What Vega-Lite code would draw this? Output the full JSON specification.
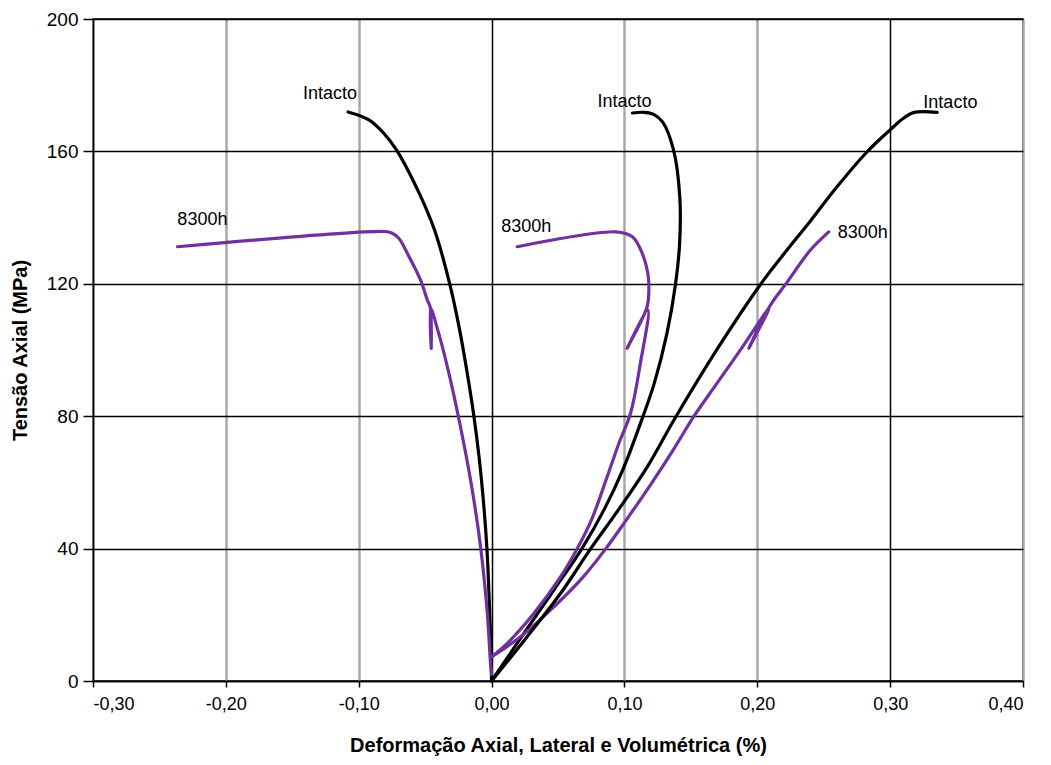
{
 "$schema": "https://vega.github.io/schema/vega-lite/v6.json",
 "width": 930, "height": 662,
 "autosize": {"type": "none"},
 "padding": {"left": 93, "top": 19, "right": 28, "bottom": 84},
 "background": "white",
 "config": {"view": {"stroke": "black", "strokeWidth": 1.5}, "font": "Liberation Sans"},
 "datasets": {
  "curves": [
   {"s":"A","g":"Intacto","i":0,"x":0,"y":0},
   {"s":"A","g":"Intacto","i":1,"x":-0.0006,"y":10},
   {"s":"A","g":"Intacto","i":2,"x":-0.0018,"y":25},
   {"s":"A","g":"Intacto","i":3,"x":-0.0035,"y":40},
   {"s":"A","g":"Intacto","i":4,"x":-0.0065,"y":56},
   {"s":"A","g":"Intacto","i":5,"x":-0.0095,"y":68},
   {"s":"A","g":"Intacto","i":6,"x":-0.0133,"y":80},
   {"s":"A","g":"Intacto","i":7,"x":-0.0175,"y":91},
   {"s":"A","g":"Intacto","i":8,"x":-0.024,"y":106},
   {"s":"A","g":"Intacto","i":9,"x":-0.0315,"y":120},
   {"s":"A","g":"Intacto","i":10,"x":-0.043,"y":136.3},
   {"s":"A","g":"Intacto","i":11,"x":-0.0545,"y":147.4},
   {"s":"A","g":"Intacto","i":12,"x":-0.0715,"y":160.4},
   {"s":"A","g":"Intacto","i":13,"x":-0.081,"y":165.4},
   {"s":"A","g":"Intacto","i":14,"x":-0.0923,"y":169.5},
   {"s":"A","g":"Intacto","i":15,"x":-0.108,"y":171.9},

   {"s":"B","g":"8300h","i":0,"x":0,"y":2},
   {"s":"B","g":"8300h","i":1,"x":-0.0008,"y":5.4},
   {"s":"B","g":"8300h","i":2,"x":-0.0032,"y":20.5},
   {"s":"B","g":"8300h","i":3,"x":-0.0083,"y":40.6},
   {"s":"B","g":"8300h","i":4,"x":-0.0158,"y":60.7},
   {"s":"B","g":"8300h","i":5,"x":-0.0255,"y":80.9},
   {"s":"B","g":"8300h","i":6,"x":-0.0333,"y":95},
   {"s":"B","g":"8300h","i":7,"x":-0.0405,"y":106},
   {"s":"B","g":"8300h","i":8,"x":-0.0459,"y":112.6},
   {"s":"B","g":"8300h","i":9,"x":-0.0454,"y":100.5},
   {"s":"B","g":"8300h","i":10,"x":-0.0462,"y":113},
   {"s":"B","g":"8300h","i":11,"x":-0.0484,"y":115.1},
   {"s":"B","g":"8300h","i":12,"x":-0.0534,"y":121.1},
   {"s":"B","g":"8300h","i":13,"x":-0.0634,"y":129.2},
   {"s":"B","g":"8300h","i":14,"x":-0.0697,"y":133.7},
   {"s":"B","g":"8300h","i":15,"x":-0.0755,"y":135.4},
   {"s":"B","g":"8300h","i":16,"x":-0.08,"y":135.8},
   {"s":"B","g":"8300h","i":17,"x":-0.2365,"y":131.2},

   {"s":"C","g":"Intacto","i":0,"x":0,"y":0},
   {"s":"C","g":"Intacto","i":1,"x":0.0243,"y":14.4},
   {"s":"C","g":"Intacto","i":2,"x":0.0469,"y":27.5},
   {"s":"C","g":"Intacto","i":3,"x":0.068,"y":40},
   {"s":"C","g":"Intacto","i":4,"x":0.085,"y":52},
   {"s":"C","g":"Intacto","i":5,"x":0.099,"y":64},
   {"s":"C","g":"Intacto","i":6,"x":0.114,"y":80},
   {"s":"C","g":"Intacto","i":7,"x":0.1225,"y":90},
   {"s":"C","g":"Intacto","i":8,"x":0.132,"y":105},
   {"s":"C","g":"Intacto","i":9,"x":0.1385,"y":120},
   {"s":"C","g":"Intacto","i":10,"x":0.1415,"y":132},
   {"s":"C","g":"Intacto","i":11,"x":0.1417,"y":146},
   {"s":"C","g":"Intacto","i":12,"x":0.137,"y":160.4},
   {"s":"C","g":"Intacto","i":13,"x":0.1287,"y":168.9},
   {"s":"C","g":"Intacto","i":14,"x":0.122,"y":171.2},
   {"s":"C","g":"Intacto","i":15,"x":0.115,"y":171.8},
   {"s":"C","g":"Intacto","i":16,"x":0.106,"y":171.6},

   {"s":"D","g":"8300h","i":0,"x":0,"y":7.3},
   {"s":"D","g":"8300h","i":1,"x":0.0118,"y":11.4},
   {"s":"D","g":"8300h","i":2,"x":0.0318,"y":20.4},
   {"s":"D","g":"8300h","i":3,"x":0.052,"y":31.5},
   {"s":"D","g":"8300h","i":4,"x":0.0645,"y":40},
   {"s":"D","g":"8300h","i":5,"x":0.0755,"y":49},
   {"s":"D","g":"8300h","i":6,"x":0.087,"y":61.7},
   {"s":"D","g":"8300h","i":7,"x":0.096,"y":72},
   {"s":"D","g":"8300h","i":8,"x":0.1046,"y":80.9},
   {"s":"D","g":"8300h","i":9,"x":0.112,"y":96},
   {"s":"D","g":"8300h","i":10,"x":0.1176,"y":112},
   {"s":"D","g":"8300h","i":11,"x":0.102,"y":100.5},
   {"s":"D","g":"8300h","i":12,"x":0.117,"y":113},
   {"s":"D","g":"8300h","i":13,"x":0.1184,"y":119},
   {"s":"D","g":"8300h","i":14,"x":0.1176,"y":123.2},
   {"s":"D","g":"8300h","i":15,"x":0.1134,"y":129.2},
   {"s":"D","g":"8300h","i":16,"x":0.106,"y":134.2},
   {"s":"D","g":"8300h","i":17,"x":0.0933,"y":135.7},
   {"s":"D","g":"8300h","i":18,"x":0.0193,"y":131.2},

   {"s":"E","g":"8300h","i":0,"x":0,"y":7.3},
   {"s":"E","g":"8300h","i":1,"x":0.0218,"y":13.4},
   {"s":"E","g":"8300h","i":2,"x":0.0469,"y":22.4},
   {"s":"E","g":"8300h","i":3,"x":0.068,"y":31},
   {"s":"E","g":"8300h","i":4,"x":0.086,"y":40},
   {"s":"E","g":"8300h","i":5,"x":0.102,"y":49},
   {"s":"E","g":"8300h","i":6,"x":0.12,"y":59.5},
   {"s":"E","g":"8300h","i":7,"x":0.137,"y":70},
   {"s":"E","g":"8300h","i":8,"x":0.152,"y":79.8},
   {"s":"E","g":"8300h","i":9,"x":0.168,"y":89},
   {"s":"E","g":"8300h","i":10,"x":0.189,"y":101},
   {"s":"E","g":"8300h","i":11,"x":0.209,"y":112.7},
   {"s":"E","g":"8300h","i":12,"x":0.1936,"y":100.5},
   {"s":"E","g":"8300h","i":13,"x":0.2095,"y":113.3},
   {"s":"E","g":"8300h","i":14,"x":0.2225,"y":120.5},
   {"s":"E","g":"8300h","i":15,"x":0.24,"y":130.2},
   {"s":"E","g":"8300h","i":16,"x":0.2538,"y":135.7},

   {"s":"F","g":"Intacto","i":0,"x":0,"y":0},
   {"s":"F","g":"Intacto","i":1,"x":0.0268,"y":13.4},
   {"s":"F","g":"Intacto","i":2,"x":0.052,"y":26.5},
   {"s":"F","g":"Intacto","i":3,"x":0.0745,"y":39.9},
   {"s":"F","g":"Intacto","i":4,"x":0.097,"y":52.6},
   {"s":"F","g":"Intacto","i":5,"x":0.1172,"y":64.7},
   {"s":"F","g":"Intacto","i":6,"x":0.1375,"y":79},
   {"s":"F","g":"Intacto","i":7,"x":0.171,"y":101},
   {"s":"F","g":"Intacto","i":8,"x":0.2024,"y":119.8},
   {"s":"F","g":"Intacto","i":9,"x":0.22,"y":129},
   {"s":"F","g":"Intacto","i":10,"x":0.24,"y":139},
   {"s":"F","g":"Intacto","i":11,"x":0.26,"y":149.3},
   {"s":"F","g":"Intacto","i":12,"x":0.2827,"y":159.9},
   {"s":"F","g":"Intacto","i":13,"x":0.3,"y":166.5},
   {"s":"F","g":"Intacto","i":14,"x":0.31,"y":170},
   {"s":"F","g":"Intacto","i":15,"x":0.318,"y":171.8},
   {"s":"F","g":"Intacto","i":16,"x":0.3354,"y":171.8}
  ],
  "labels": [
   {"label":"Intacto","x":-0.142,"y":177.3},
   {"label":"Intacto","x":0.0798,"y":175},
   {"label":"Intacto","x":0.325,"y":174.6},
   {"label":"8300h","x":-0.2365,"y":139.3},
   {"label":"8300h","x":0.0073,"y":137.3},
   {"label":"8300h","x":0.2606,"y":135.2}
  ]
 },
 "layer": [
  {
   "data": {"name": "curves"},
   "mark": {"type": "line", "strokeWidth": 3.2, "strokeCap": "round", "strokeJoin": "round", "interpolate": "catmull-rom"},
   "encoding": {
    "x": {"field": "x", "type": "quantitative",
     "scale": {"domain": [-0.3, 0.4], "nice": false, "zero": false},
     "axis": {
      "values": [-0.3, -0.2, -0.1, 0, 0.1, 0.2, 0.3, 0.4],
      "labelExpr": "(datum.value < 0 ? '-' : '') + replace(format(abs(datum.value), '.2f'), '.', ',')",
      "title": "Deformação Axial, Lateral e Volumétrica (%)",
      "titleFontSize": 20, "titleFontWeight": "bold", "titleColor": "black", "titlePadding": 22,
      "labelFontSize": 18, "labelColor": "black", "labelPadding": 8,
      "tickSize": 6, "tickColor": "black", "tickWidth": 1.5,
      "domainColor": "black", "domainWidth": 1.5,
      "grid": true,
      "gridColor": {"condition": {"test": "abs(datum.value) < 1e-6 || abs(datum.value - 0.3) < 1e-6", "value": "black"}, "value": "#a8a8a8"},
      "gridWidth": {"condition": {"test": "abs(datum.value) < 1e-6 || abs(datum.value - 0.3) < 1e-6", "value": 1.5}, "value": 2.5}
     }
    },
    "y": {"field": "y", "type": "quantitative",
     "scale": {"domain": [0, 200], "nice": false},
     "axis": {
      "values": [0, 40, 80, 120, 160, 200],
      "title": "Tensão Axial (MPa)",
      "titleFontSize": 20, "titleFontWeight": "bold", "titleColor": "black", "titlePadding": 16,
      "labelFontSize": 19, "labelColor": "black", "labelPadding": 5,
      "tickSize": 10, "tickColor": "black", "tickWidth": 1.5,
      "domainColor": "black", "domainWidth": 1.5,
      "grid": true, "gridColor": "black", "gridWidth": 1.5
     }
    },
    "detail": {"field": "s"},
    "order": {"field": "i", "type": "quantitative"},
    "color": {"field": "g", "type": "nominal",
     "scale": {"domain": ["Intacto", "8300h"], "range": ["black", "#7030a0"]},
     "legend": null}
   }
  },
  {
   "data": {"name": "labels"},
   "mark": {"type": "text", "align": "left", "baseline": "middle", "fontSize": 18, "font": "Liberation Sans", "color": "black"},
   "encoding": {
    "x": {"field": "x", "type": "quantitative"},
    "y": {"field": "y", "type": "quantitative"},
    "text": {"field": "label"}
   }
  }
 ]
}
